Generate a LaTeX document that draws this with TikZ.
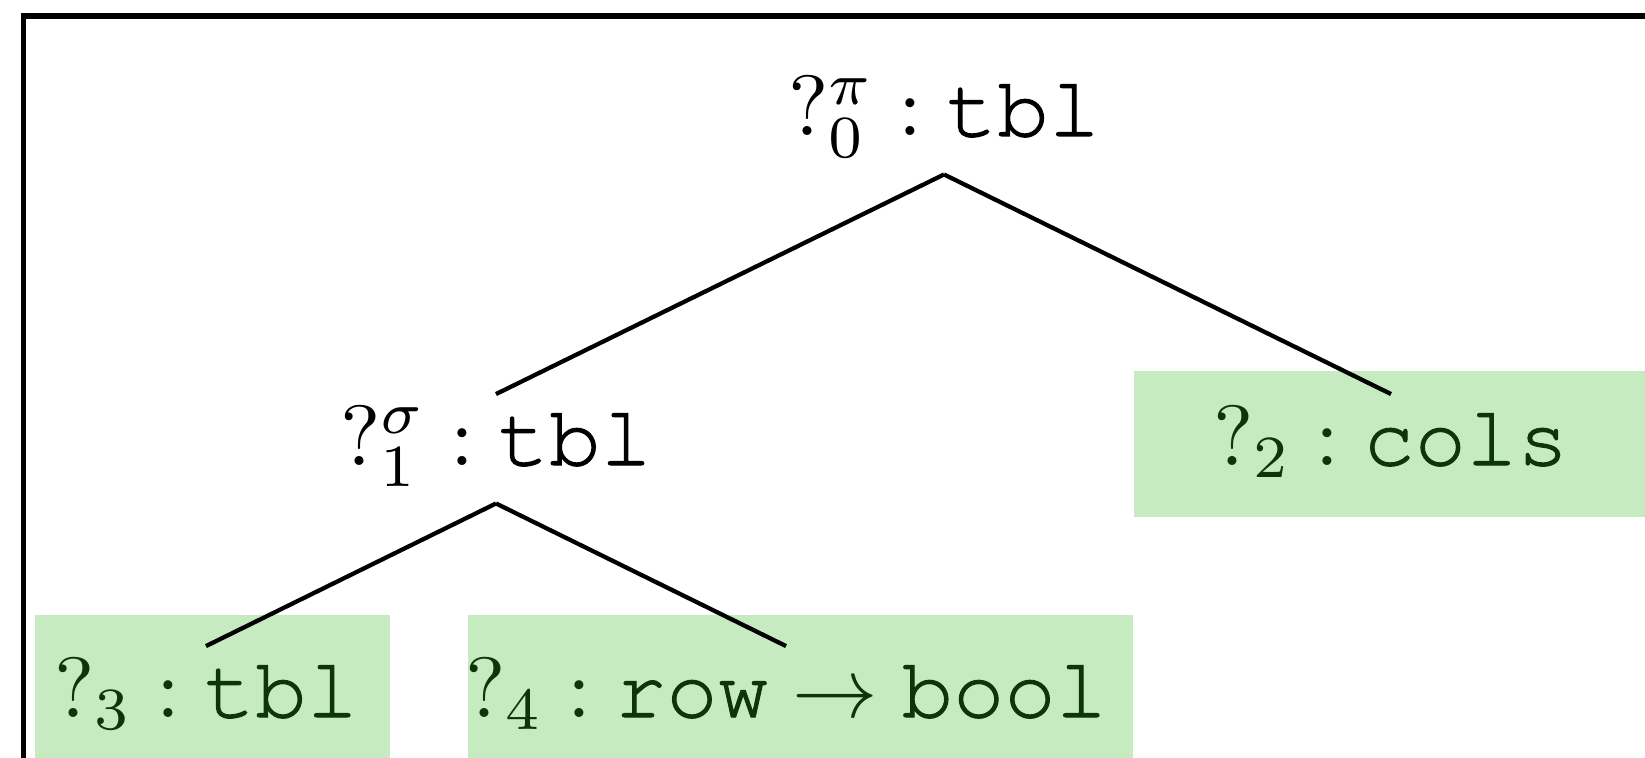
\documentclass[tikz,border=0pt]{standalone}
\usepackage{amssymb,amsmath}
\usepackage{fontspec}
\setmonofont{TeX Gyre Cursor}[FakeBold=1.2]
\definecolor{holefill}{RGB}{198,235,192}
\definecolor{holetext}{RGB}{14,52,10}
\tikzset{
	lab/.style={anchor=base,inner sep=1.2pt,text height=6.9pt,text depth=3.1pt},
	hole/.style={lab,text=holetext},
	cut/.style={fill=holefill},
	edge/.style={line width=0.5pt}
}

\begin{document}
\begin{tikzpicture}[x=0.117pt,y=-0.117pt]
\useasboundingbox (0,0) rectangle (1645,757);
\draw[line width=0.7pt] (23.5,16) rectangle (1720,860);
\fill[cut] (1134,371) rectangle (1700,517);
\fill[cut] (35,615) rectangle (390,800);
\fill[cut] (468,615) rectangle (1133,800);
\node[lab]  (q0) at (944,136) {$?_0^{\pi} : \texttt{tbl}$};
\node[lab]  (q1) at (496,465) {$?_1^{\sigma} : \texttt{tbl}$};
\node[hole] (q2) at (1391,465) {$?_2 : \texttt{cols}$};
\node[hole] (q3) at (206,717) {$?_3 : \texttt{tbl}$};
\node[hole] (q4) at (786,717) {$?_4 : \texttt{row} \rightarrow \texttt{bool}$};
\draw[edge] (q0.south)--(q1.north);
\draw[edge] (q0.south)--(q2.north);
\draw[edge] (q1.south)--(q3.north);
\draw[edge] (q1.south)--(q4.north);
\end{tikzpicture}
\end{document}
